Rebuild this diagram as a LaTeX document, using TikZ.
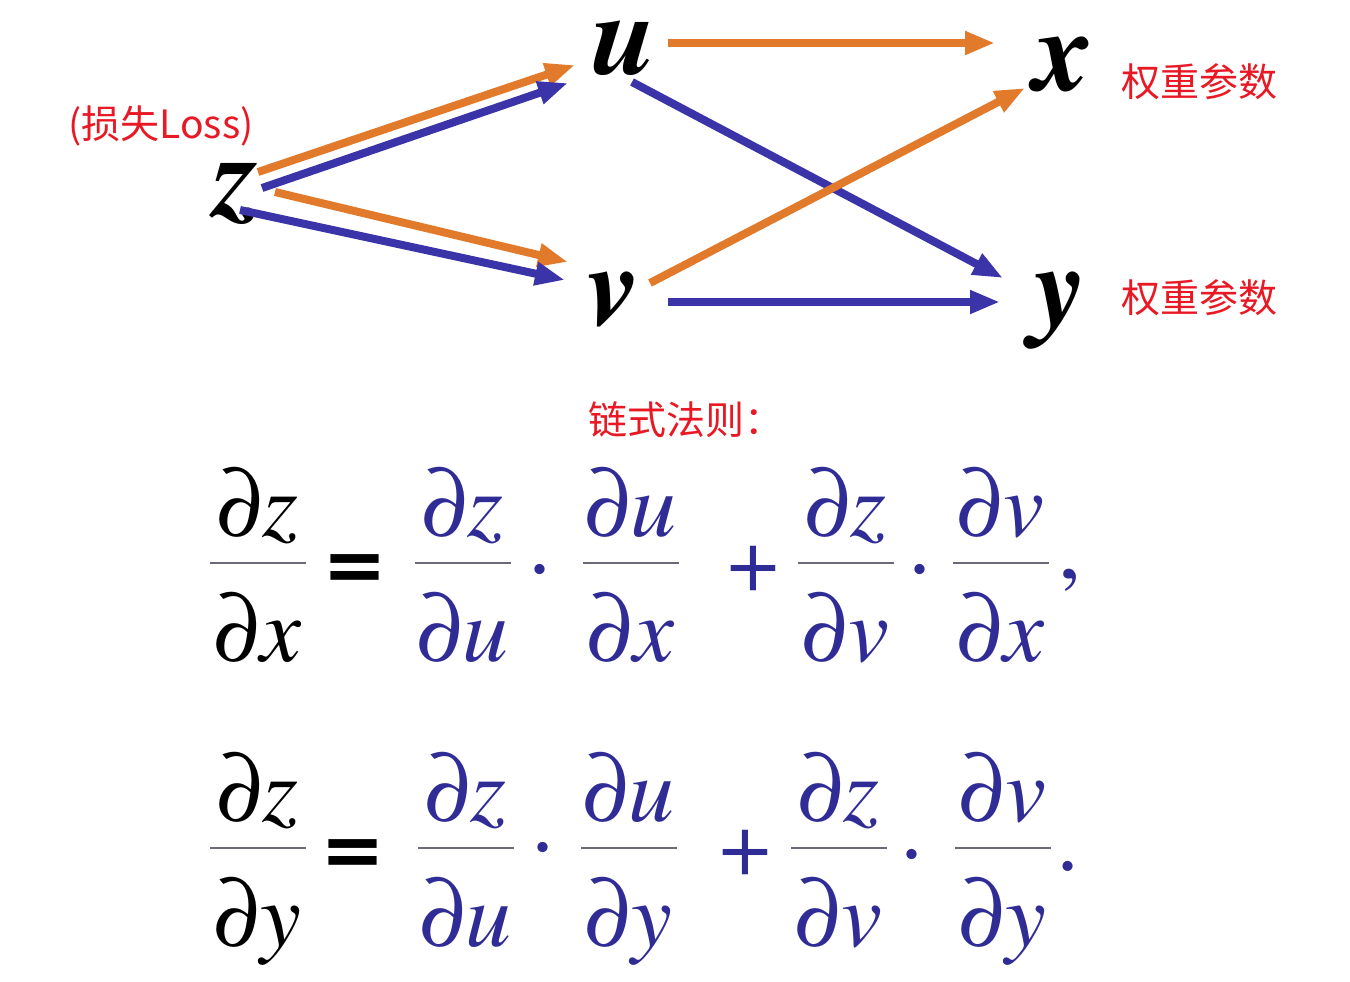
\documentclass[tikz,border=0pt]{standalone}
\usepackage{fontspec}
\setmainfont{TeX Gyre Termes}
\newfontfamily\cjk{Noto Sans CJK SC}
\usetikzlibrary{arrows.meta}
\definecolor{flowor}{RGB}{226,122,44}
\definecolor{flowbl}{RGB}{58,52,168}
\definecolor{eqblue}{RGB}{48,44,150}
\definecolor{notered}{RGB}{232,24,36}
\definecolor{barcol}{RGB}{105,105,120}

\tikzset{
  var/.style={font=\fontsize{58}{60}\selectfont\bfseries\itshape, inner sep=0pt, anchor=base},
  eqtxt/.style={font=\fontsize{46}{48}\selectfont\itshape, inner sep=0pt, anchor=base},
  eqsym/.style={font=\fontsize{46}{48}\selectfont, inner sep=0pt, anchor=base},
  note/.style={text=notered, font=\cjk\fontsize{19.5}{22}\selectfont, inner sep=0pt},
  orarr/.style={draw=flowor, line width=4pt, -{Triangle[length=15pt,width=11pt]}},
  blarr/.style={draw=flowbl, line width=4pt, -{Triangle[length=15pt,width=11pt]}},
  fracbar/.style={draw=barcol, line width=1.4pt}
}

% fraction d(num)/d(den): name, x, bar y, num, den
\newcommand{\partfrac}[5]{%
  \node[eqtxt] (#1n) at (#2,#3-27) {∂#4};
  \node[eqtxt] (#1d) at (#2,#3+98) {∂#5};
  \draw[fracbar] (#2-48,#3) -- (#2+48,#3);
}

\begin{document}
\begin{tikzpicture}[x=0.5pt,y=-0.5pt]
  \useasboundingbox (0,0) rectangle (1350,981);

  % variables
  \node[var] (z) at (237,215) {z};
  \node[var] (u) at (625,74)  {u};
  \node[var] (v) at (613,325) {v};
  \node[var] (x) at (1063,90) {x};
  \node[var] (y) at (1060,325) {y};

  \node[note] (loss) at (161,126) {(损失Loss)};
  \node[note] (wx) at (1199,82)  {权重参数};
  \node[note] (wy) at (1199,298) {权重参数};

  % paths
  \draw[orarr] ([shift={(21,-43)}]z.base) -- ([shift={(-50,-9)}]u.base);
  \draw[blarr] ([shift={(25,-27)}]z.base) -- ([shift={(-57,9)}]u.base);
  \draw[orarr] ([shift={(38,-23)}]z.base) -- ([shift={(-45,-63)}]v.base);
  \draw[blarr] ([shift={(3,-5)}]z.base)   -- ([shift={(-48,-45)}]v.base);
  \draw[orarr] ([shift={(43,-31)}]u.base) -- ([shift={(-68,-47)}]x.base);
  \draw[blarr] ([shift={(7,8)}]u.base)    -- ([shift={(-57,-47)}]y.base);
  \draw[orarr] ([shift={(37,-42)}]v.base) -- ([shift={(-38,-2)}]x.base);
  \draw[blarr] ([shift={(55,-23)}]v.base) -- ([shift={(-60,-23)}]y.base);

  \node[note, anchor=west] (rule) at (588,420) {链式法则：};

  % dz/dx
  \partfrac{ax}{258}{563}{z}{x}
  \node[eqsym, font=\fontsize{50}{52}\selectfont\bfseries] (eqx) at (355,592) {=};
  \begin{scope}[every node/.append style={text=eqblue}]
    \partfrac{bx}{463}{563}{z}{u}
    \node[eqsym] (dx1) at (540,592) {·};
    \partfrac{cx}{631}{563}{u}{x}
    \node[eqsym] (px) at (753,591) {+};
    \partfrac{dx}{846}{563}{z}{v}
    \node[eqsym] (dx2) at (920,592) {·};
    \partfrac{ex}{1001}{563}{v}{x}
    \node[eqsym] (cm) at (1070,578) {,};
  \end{scope}

  % dz/dy
  \partfrac{ay}{258}{848}{z}{y}
  \node[eqsym, font=\fontsize{50}{52}\selectfont\bfseries] (eqy) at (353,877) {=};
  \begin{scope}[every node/.append style={text=eqblue}]
    \partfrac{by}{466}{848}{z}{u}
    \node[eqsym] (dy1) at (543,870) {·};
    \partfrac{cy}{629}{848}{u}{y}
    \node[eqsym] (py) at (745,875) {+};
    \partfrac{dy}{839}{848}{z}{v}
    \node[eqsym] (dy2) at (912,877) {·};
    \partfrac{ey}{1003}{848}{v}{y}
    \node[eqsym] (pd) at (1068,870) {.};
  \end{scope}
\end{tikzpicture}
\end{document}
